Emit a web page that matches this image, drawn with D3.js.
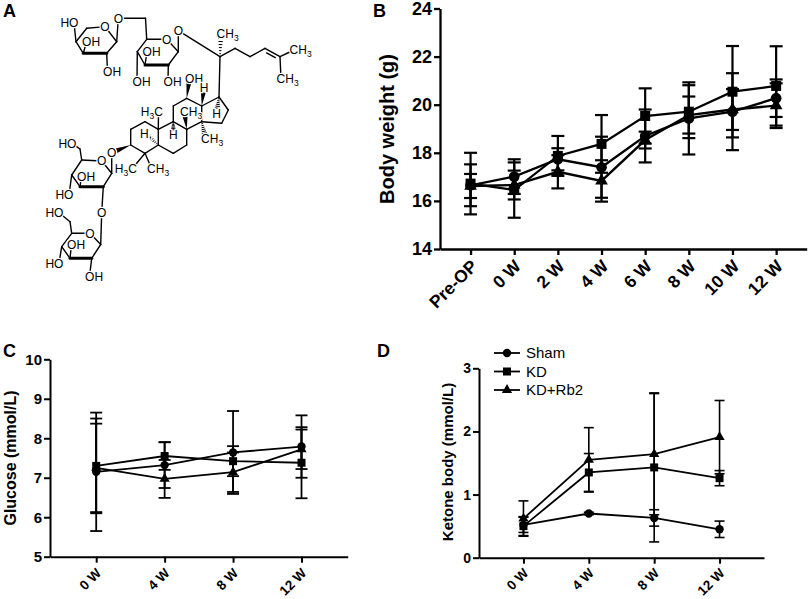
<!DOCTYPE html>
<html>
<head>
<meta charset="utf-8">
<script src="https://cdn.jsdelivr.net/npm/d3@7"></script>
<style>
  body { margin: 0; background: #fff; }
  text { font-family: "Liberation Sans", Arial, sans-serif; }
</style>
</head>
<body>
<svg id="fig" width="809" height="599"></svg>
<script>
// ---- data ----
const groups = ["Sham", "KD", "KD+Rb2"];

const weeksB = ["Pre-OP", "0 W", "2 W", "4 W", "6 W", "8 W", "10 W", "12 W"];
const weightSham = [16.65, 17.01, 17.73, 17.40, 18.70, 19.43, 19.71, 20.27];
const weightShamErr = [0.87, 0.72, 0.46, 1.27, 1.10, 1.50, 1.60, 0.78];
const weightKD = [16.72, 16.45, 17.87, 18.37, 19.53, 19.71, 20.54, 20.78];
const weightKDErr = [1.28, 1.15, 0.83, 1.20, 1.15, 1.10, 1.90, 1.65];
const weightRb2 = [16.62, 16.66, 17.21, 16.83, 18.53, 19.57, 19.80, 19.96];
const weightRb2Err = [0.50, 0.60, 0.69, 0.86, 0.35, 0.77, 0.85, 0.93];
const ticksB = [14, 16, 18, 20, 22, 24];

const weeksCD = ["0 W", "4 W", "8 W", "12 W"];
const glucoseSham = [7.15, 7.32, 7.64, 7.79];
const glucoseShamErr = [1.50, 0.58, 1.05, 0.79];
const glucoseKD = [7.30, 7.55, 7.42, 7.38];
const glucoseKDErr = [1.20, 0.35, 0.38, 0.90];
const glucoseRb2 = [7.25, 6.97, 7.14, 7.72];
const glucoseRb2Err = [1.12, 0.48, 0.50, 0.50];
const ticksC = [5, 6, 7, 8, 9, 10];

const ketoneSham = [0.52, 0.70, 0.63, 0.45];
const ketoneShamErr = [0.12, 0.02, 0.13, 0.13];
const ketoneKD = [0.50, 1.35, 1.43, 1.26];
const ketoneKDErr = [0.15, 0.30, 1.18, 0.12];
const ketoneRb2 = [0.62, 1.55, 1.64, 1.91];
const ketoneRb2Err = [0.28, 0.51, 0.96, 0.58];
const ticksD = [0, 1, 2, 3];

const FONT = "Liberation Sans, Arial, sans-serif";
const svg = d3.select("#fig");
svg.append("rect").attr("width", 809).attr("height", 599).attr("fill", "#fff");

const symbolTypes = [d3.symbolCircle, d3.symbolSquare, d3.symbolTriangle];

function panel(o) {
  const g = svg.append("g");
  const x = d3.scalePoint().domain(o.cats).range(o.xr).padding(o.pad);
  const y = d3.scaleLinear().domain(o.dom).range(o.yr);

  const ya = g.append("g")
    .attr("transform", `translate(${o.xr[0]},0)`)
    .call(d3.axisLeft(y).tickValues(o.ticks).tickFormat(d3.format("d"))
      .tickSize(o.tk).tickSizeOuter(0).tickPadding(2));
  const xa = g.append("g")
    .attr("transform", `translate(0,${o.yr[0]})`)
    .call(d3.axisBottom(x).tickSize(o.tk).tickSizeOuter(0));

  [ya, xa].forEach(a => {
    a.attr("font-family", FONT);
    a.select(".domain").attr("stroke", "#000").attr("stroke-width", o.sw);
    a.selectAll(".tick line").attr("stroke", "#000").attr("stroke-width", o.sw);
    a.selectAll(".tick text").attr("fill", "#000").attr("font-weight", "bold");
  });
  ya.selectAll(".tick text").attr("font-size", o.yfs);
  xa.selectAll(".tick text")
    .attr("font-size", o.xfs)
    .attr("y", 0).attr("dy", "0.35em")
    .attr("text-anchor", "end")
    .attr("transform", `translate(${o.lx},${o.ly}) rotate(-45)`);

  // y title
  g.append("text")
    .attr("transform", `translate(${o.tx},${o.ty}) rotate(-90)`)
    .attr("text-anchor", "middle").attr("dy", "0.35em")
    .attr("font-size", o.tfs).attr("font-weight", "bold")
    .text(o.title);

  // panel letter
  g.append("text").attr("x", o.letter[1]).attr("y", o.letter[2])
    .attr("font-size", 18).attr("font-weight", "bold").text(o.letter[0]);

  const line = d3.line().x(d => d.x).y(d => y(d.v));

  o.series.forEach(s => {
    const pts = o.cats.map((c, j) => ({ x: x(c), v: s.v[j], e: s.e[j] }));
    const eb = g.append("g").attr("stroke", "#000").attr("stroke-width", o.ew);
    eb.selectAll(".bar").data(pts).join("line")
      .attr("x1", d => d.x).attr("x2", d => d.x)
      .attr("y1", d => y(d.v - d.e)).attr("y2", d => y(d.v + d.e));
    eb.selectAll(".capT").data(pts).join("line")
      .attr("x1", d => d.x - o.cap / 2).attr("x2", d => d.x + o.cap / 2)
      .attr("y1", d => y(d.v + d.e)).attr("y2", d => y(d.v + d.e));
    eb.selectAll(".capB").data(pts).join("line")
      .attr("x1", d => d.x - o.cap / 2).attr("x2", d => d.x + o.cap / 2)
      .attr("y1", d => y(d.v - d.e)).attr("y2", d => y(d.v - d.e));
    s.pts = pts;
  });
  o.series.forEach(s => {
    g.append("path").datum(s.pts)
      .attr("d", line).attr("fill", "none")
      .attr("stroke", "#000").attr("stroke-width", o.lw);
  });
  o.series.forEach((s, i) => {
    g.selectAll(null).data(s.pts).join("path")
      .attr("transform", d => `translate(${d.x},${y(d.v)})`)
      .attr("d", d3.symbol().type(symbolTypes[i]).size(o.ms[i]))
      .attr("fill", "#000");
  });
  return { x, y, g };
}

// ---- B: body weight ----
panel({
  cats: weeksB, xr: [440, 806.7], pad: 0.7, dom: [14, 24], yr: [249, 8.5],
  ticks: ticksB, tk: 6, sw: 2.3, yfs: 18, xfs: 17.5, lx: 3, ly: 14,
  title: "Body weight (g)", tx: 387, ty: 129, tfs: 20, letter: ["B", 373, 17],
  lw: 2.3, ew: 2.2, cap: 13, ms: [90, 100, 70],
  series: [
    { v: weightSham, e: weightShamErr },
    { v: weightKD, e: weightKDErr },
    { v: weightRb2, e: weightRb2Err }
  ]
});

// ---- C: glucose ----
panel({
  cats: weeksCD, xr: [50, 347.7], pad: 0.675, dom: [5, 10], yr: [556.7, 359.3],
  ticks: ticksC, tk: 6, sw: 2, yfs: 15, xfs: 13.5, lx: 2, ly: 14,
  title: "Glucose (mmol/L)", tx: 10, ty: 458, tfs: 16, letter: ["C", 3, 357],
  lw: 1.8, ew: 1.8, cap: 12, ms: [55, 64, 45],
  series: [
    { v: glucoseSham, e: glucoseShamErr },
    { v: glucoseKD, e: glucoseKDErr },
    { v: glucoseRb2, e: glucoseRb2Err }
  ]
});

// ---- D: ketone body ----
panel({
  cats: weeksCD, xr: [479, 764], pad: 0.68, dom: [0, 3], yr: [557.7, 368.3],
  ticks: ticksD, tk: 6, sw: 2, yfs: 14, xfs: 13.5, lx: 2, ly: 13,
  title: "Ketone body (mmol/L)", tx: 448, ty: 462, tfs: 15, letter: ["D", 377, 357],
  lw: 1.8, ew: 1.6, cap: 10, ms: [55, 64, 45],
  series: [
    { v: ketoneSham, e: ketoneShamErr },
    { v: ketoneKD, e: ketoneKDErr },
    { v: ketoneRb2, e: ketoneRb2Err }
  ]
});

// legend (panel D)
const leg = svg.append("g").attr("transform", "translate(494,353)");
groups.forEach((name, i) => {
  const row = leg.append("g").attr("transform", `translate(0,${i * 18.5})`);
  row.append("line").attr("x1", 0).attr("x2", 26).attr("stroke", "#000").attr("stroke-width", 1.8);
  row.append("path").attr("transform", "translate(13,0)")
    .attr("d", d3.symbol().type(symbolTypes[i]).size([55, 64, 45][i])).attr("fill", "#000");
  row.append("text").attr("x", 32).attr("dy", "0.35em").attr("font-size", 15).text(name);
});

// ---- A: structure of ginsenoside Rb2 ----
const atoms = {
  s1c4: [76, 41.7], s1c5: [86.7, 28.3], s1o: [105, 26.7], s1c1: [116.7, 41.7], s1c2: [106.7, 53.3], s1c3: [83.3, 53.3],
  s1oh4: [74, 23], s1oh3: [86.5, 42], s1oh2: [107.5, 71.7], o1: [118.3, 18.3], s2c6: [145.5, 18.3],
  s2c5: [146.7, 39.3], s2o: [166.7, 39.3], s2c1: [178.3, 51.7], s2c2: [168.3, 65], s2c3: [145, 65], s2c4: [137.3, 51.7],
  s2oh3: [147, 52], s2oh4: [137, 81.7], s2oh2: [168, 81.7], o2: [178.3, 30.7],
  c20: [220, 56.7], c21: [221, 33.3], c22: [235, 48.3], c23: [250, 56.7], c24: [265, 48.3], c25: [280, 56.7],
  c26: [294, 50], c27: [281, 79],
  c1: [145, 121.7], c2: [130.7, 129.3], c3: [130.7, 145], c4: [145, 153.3], c5: [158.3, 145], c10: [158.3, 129.3],
  c6: [173.3, 153.3], c7: [186.7, 145], c8: [186.7, 129.3], c9: [173.3, 121.7],
  c11: [173.3, 106], c12: [186.7, 98.3], c13: [201.7, 106], c14: [201.7, 121.7],
  c15: [221.7, 123.3], c16: [228.3, 110], c17: [219, 97],
  oh12: [189.5, 78.3], h13: [204, 87.3], h17: [216.7, 113.3], me19: [158.5, 111.7], me18: [184.5, 111.7],
  h9: [173.3, 135], h5: [145, 133.3], me30: [205.5, 138.3], me28: [132.5, 168.3], me29: [151.5, 168.3], o3: [111.7, 152.7],
  s3c6: [80, 149], s3oh6: [72, 143.3], s3c5: [81.7, 160], s3o: [101.7, 161], s3c1: [111.7, 173.3], s3c2: [103.3, 186.7],
  s3c3: [80, 186.7], s3c4: [71.7, 175], s3oh3: [81.5, 176.7], s3oh4: [69, 195], o4: [101.7, 212.5],
  s4c6: [70, 221.7], s4oh6: [59, 212.7], s4c5: [71.7, 233.3], s4o: [90, 233.3], s4c1: [100.7, 244.5], s4c2: [91.7, 258.3],
  s4c3: [70, 258.3], s4c4: [61.7, 246.7], s4oh3: [71.5, 245], s4oh4: [59, 263.3], s4oh2: [89.5, 276.7]
};

const labels = [
  ["s1oh4", "HO"], ["s1oh3", "OH"], ["s1oh2", "OH"], ["s1o", "O"], ["o1", "O"],
  ["s2o", "O"], ["s2oh3", "OH"], ["s2oh4", "OH"], ["s2oh2", "OH"], ["o2", "O"],
  ["c21", "CH3"], ["c26", "CH3"], ["c27", "CH3"],
  ["oh12", "OH"], ["h13", "H"], ["h17", "H"], ["me19", "H3C"], ["me18", "CH3"], ["h9", "H"], ["h5", "H,"],
  ["me30", "CH3"], ["me28", "H3C"], ["me29", "CH3"], ["o3", "O"],
  ["s3oh6", "HO"], ["s3o", "O"], ["s3oh3", "OH"], ["s3oh4", "HO"], ["o4", "O"],
  ["s4oh6", "HO"], ["s4o", "O"], ["s4oh3", "OH"], ["s4oh4", "HO"], ["s4oh2", "OH"]
];

const bonds = [
  ["s1c4", "s1c5"], ["s1c5", "s1o"], ["s1o", "s1c1"], ["s1c1", "s1c2"], ["s1c2", "s1c3", "B"], ["s1c3", "s1c4"],
  ["s1c4", "s1oh4"], ["s1c3", "s1oh3"], ["s1c2", "s1oh2"], ["s1c1", "o1"], ["o1", "s2c6"], ["s2c6", "s2c5"],
  ["s2c5", "s2o"], ["s2o", "s2c1"], ["s2c1", "s2c2"], ["s2c2", "s2c3", "B"], ["s2c3", "s2c4"], ["s2c4", "s2c5"],
  ["s2c3", "s2oh3"], ["s2c4", "s2oh4"], ["s2c2", "s2oh2"], ["s2c1", "o2"], ["o2", "c20"],
  ["c20", "c21", "h"], ["c20", "c17"], ["c20", "c22"], ["c22", "c23"], ["c23", "c24"], ["c24", "c25", "d"],
  ["c25", "c26"], ["c25", "c27"],
  ["c1", "c2"], ["c2", "c3"], ["c3", "c4"], ["c4", "c5"], ["c5", "c10"], ["c10", "c1"],
  ["c5", "c6"], ["c6", "c7"], ["c7", "c8"], ["c8", "c9"], ["c9", "c10"],
  ["c9", "c11"], ["c11", "c12"], ["c12", "c13"], ["c13", "c14"], ["c14", "c8"],
  ["c13", "c17"], ["c17", "c16"], ["c16", "c15"], ["c15", "c14"],
  ["c12", "oh12", "w"], ["c13", "h13", "w"], ["c17", "h17", "h"], ["c10", "me19"], ["c8", "me18", "w"],
  ["c9", "h9", "h"], ["c5", "h5", "h"], ["c14", "me30", "h"], ["c4", "me28"], ["c4", "me29"], ["c3", "o3", "w"],
  ["s3oh6", "s3c6"], ["s3c6", "s3c5"], ["s3c5", "s3o"], ["s3o", "s3c1"], ["s3c1", "s3c2"], ["s3c2", "s3c3", "B"],
  ["s3c3", "s3c4"], ["s3c4", "s3c5"], ["s3c3", "s3oh3"], ["s3c4", "s3oh4"], ["s3c1", "o3"], ["s3c2", "o4"],
  ["o4", "s4c1"], ["s4oh6", "s4c6"], ["s4c6", "s4c5"], ["s4c5", "s4o"], ["s4o", "s4c1"], ["s4c1", "s4c2"],
  ["s4c2", "s4c3", "B"], ["s4c3", "s4c4"], ["s4c4", "s4c5"], ["s4c3", "s4oh3"], ["s4c4", "s4oh4"], ["s4c2", "s4oh2"]
];

const labelled = new Set(labels.map(l => l[0]));
const mol = svg.append("g").attr("stroke", "#000").attr("fill", "none").attr("stroke-width", 1.4);

function ends(a, b) {
  let [x1, y1] = atoms[a], [x2, y2] = atoms[b];
  const len = Math.hypot(x2 - x1, y2 - y1), ux = (x2 - x1) / len, uy = (y2 - y1) / len;
  const r = 5.2;
  if (labelled.has(a)) { x1 += ux * r; y1 += uy * r; }
  if (labelled.has(b)) { x2 -= ux * r; y2 -= uy * r; }
  return [x1, y1, x2, y2, ux, uy];
}

bonds.forEach(([a, b, t]) => {
  const [x1, y1, x2, y2, ux, uy] = ends(a, b);
  const nx = -uy, ny = ux;
  if (t === "w") {
    const w = 2.4;
    mol.append("path").attr("fill", "#000").attr("stroke", "none")
      .attr("d", `M${x1},${y1}L${x2 + nx * w},${y2 + ny * w}L${x2 - nx * w},${y2 - ny * w}Z`);
  } else if (t === "h") {
    const n = 6;
    for (let k = 0; k <= n; k++) {
      const f = k / n, px = x1 + (x2 - x1) * f, py = y1 + (y2 - y1) * f, w = 0.4 + 2.2 * f;
      mol.append("line").attr("stroke-width", 1)
        .attr("x1", px - nx * w).attr("y1", py - ny * w).attr("x2", px + nx * w).attr("y2", py + ny * w);
    }
  } else {
    mol.append("line").attr("x1", x1).attr("y1", y1).attr("x2", x2).attr("y2", y2)
      .attr("stroke-width", t === "B" ? 3 : 1.4).attr("stroke-linecap", "round");
    if (t === "d") {
      const o = 3.2, s = 0.18;
      mol.append("line")
        .attr("x1", x1 + (x2 - x1) * s + nx * o).attr("y1", y1 + (y2 - y1) * s + ny * o)
        .attr("x2", x2 - (x2 - x1) * s + nx * o).attr("y2", y2 - (y2 - y1) * s + ny * o);
    }
  }
});

const lab = svg.append("g").attr("font-size", 12).attr("fill", "#000");
labels.forEach(([k, t]) => {
  const [ax, ay] = atoms[k];
  let anchor = "middle", x = ax;
  if (t === "HO" || t === "H3C") { anchor = "end"; x = ax + 4.4; }
  if (t === "OH" || t === "CH3") { anchor = "start"; x = ax - 4.4; }
  if (t === "H,") { x = ax + 1; }
  const el = lab.append("text").attr("x", x).attr("y", ay).attr("dy", "0.36em")
    .attr("text-anchor", anchor)
    .attr("stroke", "#fff").attr("stroke-width", 2.5).attr("paint-order", "stroke");
  if (t === "CH3") {
    el.append("tspan").text("CH");
    el.append("tspan").attr("font-size", 8.5).attr("dy", 3).text("3");
  } else if (t === "H3C") {
    el.append("tspan").text("H");
    el.append("tspan").attr("font-size", 8.5).attr("dy", 3).text("3");
    el.append("tspan").attr("dy", -3).text("C");
  } else {
    el.text(t);
  }
});

svg.append("text").attr("x", 3).attr("y", 17).attr("font-size", 18).attr("font-weight", "bold").text("A");
</script>
</body>
</html>
